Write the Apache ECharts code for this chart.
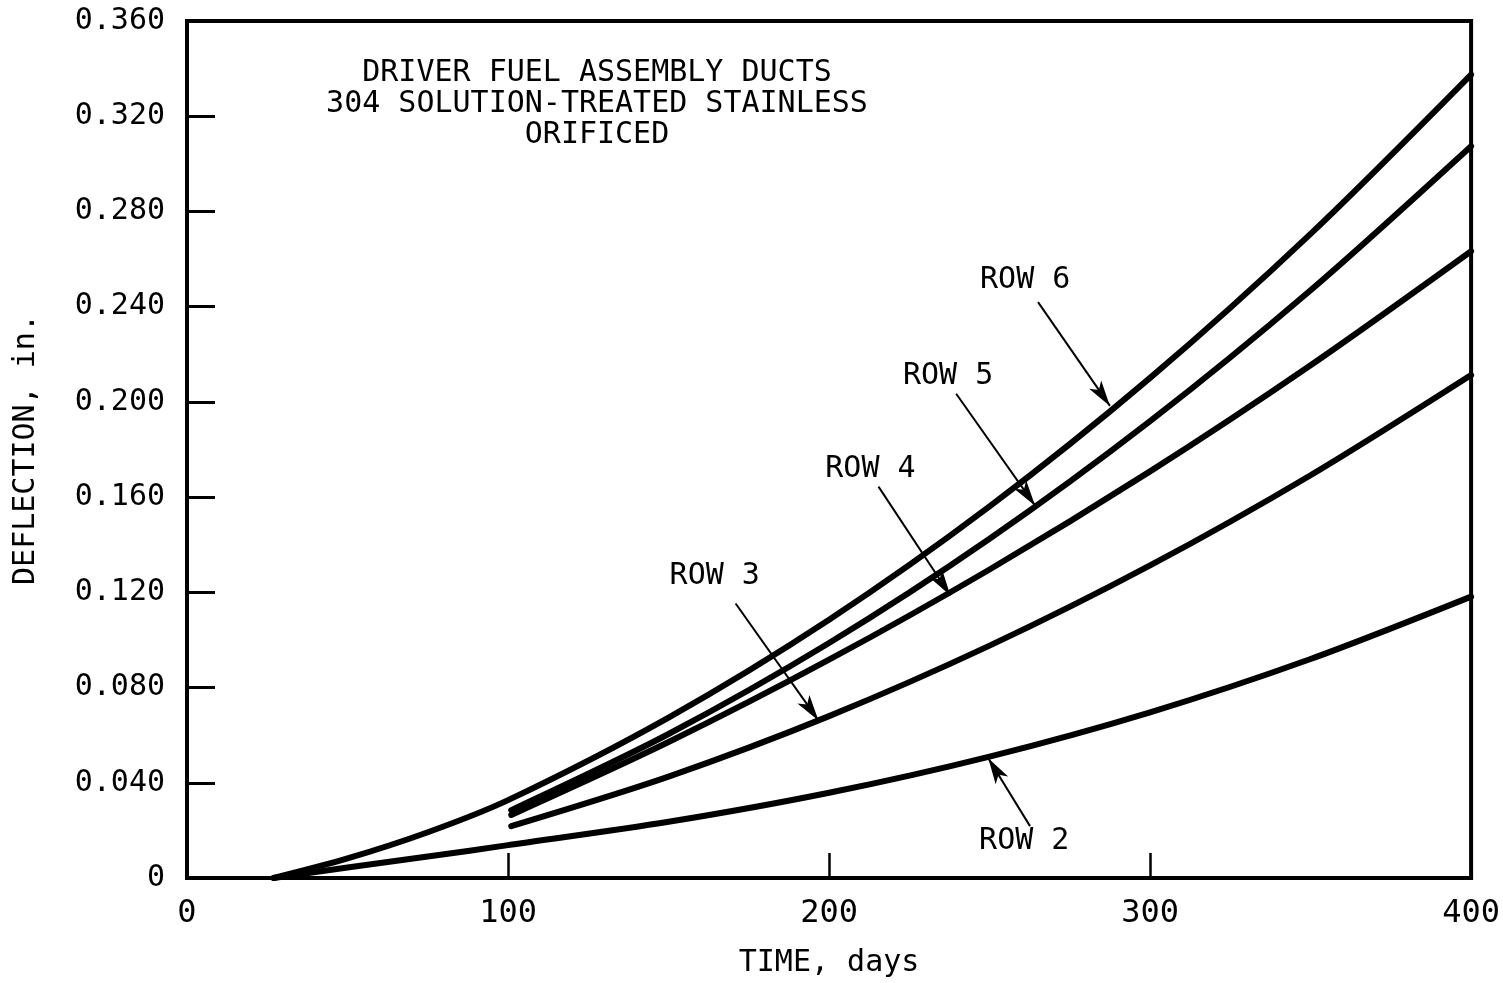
<!DOCTYPE html>
<html>
<head>
<meta charset="utf-8">
<title>Driver Fuel Assembly Ducts - Deflection vs Time</title>
<script src="https://cdn.jsdelivr.net/npm/echarts@6/dist/echarts.min.js"></script>
<style>
  html, body { margin: 0; padding: 0; background: #fff; }
  #chart { width: 1503px; height: 983px; }
</style>
</head>
<body>
<div id="chart"></div>
<script>
// Irradiation time (days) and duct deflection (in.) for each core row
const row6Days = [27, 50, 75, 100, 150, 200, 250, 300, 350, 400];
const row6Defl = [0, 0.0082, 0.0192, 0.0327, 0.0674, 0.1085, 0.1561, 0.2101, 0.2706, 0.3375];

const row5Days = [101, 150, 200, 250, 300, 350, 400];
const row5Defl = [0.0285, 0.0605, 0.0987, 0.1425, 0.1919, 0.2469, 0.3074];

const row4Days = [101, 150, 200, 250, 300, 350, 400];
const row4Defl = [0.0265, 0.0571, 0.0917, 0.1296, 0.1708, 0.2154, 0.2633];

const row3Days = [101, 150, 200, 250, 300, 350, 400];
const row3Defl = [0.0218, 0.0426, 0.0680, 0.0976, 0.1313, 0.1692, 0.2113];

const row2Days = [27, 50, 75, 100, 150, 200, 250, 300, 350, 400];
const row2Defl = [0, 0.0044, 0.0090, 0.0138, 0.0236, 0.0358, 0.0510, 0.0696, 0.0920, 0.1182];

// Tick labels
const xTickLabels = ['0', '100', '200', '300', '400'];
const yTickLabels = ['0', '0.040', '0.080', '0.120', '0.160', '0.200', '0.240', '0.280', '0.320', '0.360'];

// Callout labels: text, label anchor [day, in.], arrow tail [day, in.], arrow tip [day, in.]
const calloutText = ['ROW 6', 'ROW 5', 'ROW 4', 'ROW 3', 'ROW 2'];
const calloutLabelAt = [[261.1, 0.2512], [237.1, 0.2109], [212.9, 0.1719], [164.4, 0.1266], [260.8, 0.0155]];
const calloutTail = [[265.1, 0.2419], [239.6, 0.2034], [215.4, 0.1644], [170.9, 0.1153], [262.6, 0.0218]];
const calloutTip = [[287.5, 0.1983], [264.2, 0.1564], [237.8, 0.1187], [196.7, 0.0662], [249.6, 0.0503]];

const titleLines = ['DRIVER FUEL ASSEMBLY DUCTS', '304 SOLUTION-TREATED STAINLESS', 'ORIFICED'];

const FONT = '"DejaVu Sans Mono", "Liberation Mono", monospace';
const INK = '#000';

function zip(xs, ys) { return xs.map((x, i) => [x, ys[i]]); }

function curve(name, xs, ys) {
  return {
    name: name,
    type: 'line',
    data: zip(xs, ys),
    smooth: 0.3,
    showSymbol: false,
    silent: true,
    lineStyle: { color: INK, width: 6, cap: 'round', join: 'round' },
    z: 3
  };
}

const chart = echarts.init(document.getElementById('chart'));

const option = {
  backgroundColor: '#fff',
  animation: false,
  grid: {
    left: 187, right: 27, top: 21, bottom: 103,
    show: true, borderColor: INK, borderWidth: 4, backgroundColor: 'transparent'
  },
  xAxis: {
    type: 'value', min: 0, max: 400, interval: 100,
    name: 'TIME, days', nameLocation: 'middle', nameGap: 70,
    nameTextStyle: { fontFamily: FONT, fontSize: 30, color: INK },
    axisLine: { show: true, lineStyle: { color: INK, width: 4 } },
    axisTick: { show: true, inside: true, length: 25, lineStyle: { color: INK, width: 2.5 } },
    axisLabel: {
      margin: 20, fontFamily: FONT, fontSize: 32, color: INK,
      formatter: (v) => xTickLabels[Math.round(v / 100)]
    },
    splitLine: { show: false }
  },
  yAxis: {
    type: 'value', min: 0, max: 0.36, interval: 0.04,
    name: 'DEFLECTION, in.', nameLocation: 'middle', nameGap: 146,
    nameTextStyle: { fontFamily: FONT, fontSize: 30, color: INK },
    axisLine: { show: true, lineStyle: { color: INK, width: 4 } },
    axisTick: { show: true, inside: true, length: 28, lineStyle: { color: INK, width: 3 } },
    axisLabel: {
      margin: 22, fontFamily: FONT, fontSize: 30, color: INK,
      formatter: (v) => yTickLabels[Math.round(v / 0.04)]
    },
    splitLine: { show: false }
  },
  graphic: titleLines.map((t, i) => ({
    type: 'text',
    x: 597, y: 73 + i * 31,
    style: {
      text: t, fill: INK, font: '30px ' + FONT,
      textAlign: 'center', textVerticalAlign: 'middle'
    },
    z: 10
  })),
  series: [
    curve('ROW 6', row6Days, row6Defl),
    curve('ROW 5', row5Days, row5Defl),
    curve('ROW 4', row4Days, row4Defl),
    curve('ROW 3', row3Days, row3Defl),
    curve('ROW 2', row2Days, row2Defl),
    {
      name: 'callouts',
      type: 'scatter',
      silent: true,
      symbolSize: 0,
      itemStyle: { opacity: 1, color: INK },
      data: calloutLabelAt.map((p, i) => ({ value: p, name: calloutText[i] })),
      label: {
        show: true, position: 'inside', formatter: (p) => p.name,
        fontFamily: FONT, fontSize: 30, color: INK, opacity: 1
      },
      markLine: {
        silent: true,
        animation: false,
        symbol: ['none', 'arrow'],
        symbolSize: [11, 26],
        label: { show: false },
        lineStyle: { color: INK, width: 2, type: 'solid', opacity: 1 },
        data: calloutTail.map((p, i) => [
          { coord: p },
          { coord: calloutTip[i] }
        ])
      },
      z: 5
    }
  ]
};

chart.setOption(option);
</script>
</body>
</html>
